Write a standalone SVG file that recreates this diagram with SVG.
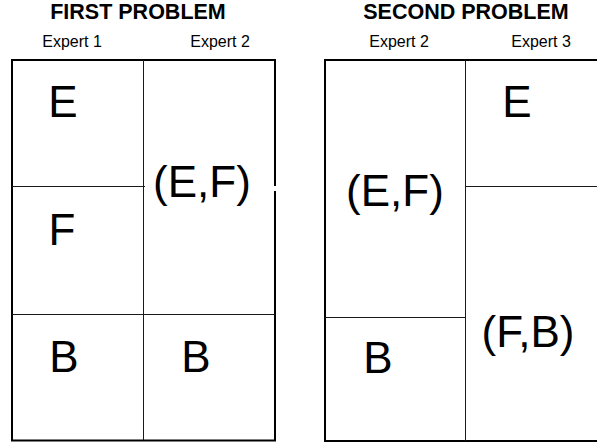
<svg xmlns="http://www.w3.org/2000/svg" width="597" height="444" viewBox="0 0 597 444">
<style>
text{font-family:"Liberation Sans",Arial,sans-serif;fill:#000;text-anchor:middle}
.title{font-size:21.5px;font-weight:bold}
.hdr{font-size:16px}
.big{font-size:44px}
.outer{fill:none;stroke:#000;stroke-width:2}
.inner{fill:none;stroke:#1a1a1a;stroke-width:1}
</style>
<rect width="597" height="444" fill="#fff"/>
<g id="first-problem">
  <text class="title" x="138" y="18.5">FIRST PROBLEM</text>
  <text class="hdr" x="72" y="47">Expert 1</text>
  <text class="hdr" x="220" y="47">Expert 2</text>
  <path class="outer" d="M275,186 V60 H12 V440.5 H275 V191"/>
  <g id="fp-lines">
    <line class="inner" x1="143.5" y1="60" x2="143.5" y2="440"/>
    <line class="inner" x1="12" y1="186.5" x2="145" y2="186.5"/>
    <line class="inner" x1="12" y1="314.5" x2="275" y2="314.5"/>
  </g>
  <g id="fp-e1-E"><text class="big" x="63" y="116.5">E</text></g>
  <g id="fp-e1-F"><text class="big" x="62" y="245">F</text></g>
  <g id="fp-e1-B"><text class="big" x="64" y="372">B</text></g>
  <g id="fp-e2-EF"><text class="big" x="202" y="197">(E,F)</text></g>
  <g id="fp-e2-B"><text class="big" x="196" y="372">B</text></g>
</g>
<g id="second-problem">
  <text class="title" x="466" y="18.5">SECOND PROBLEM</text>
  <text class="hdr" x="399" y="47">Expert 2</text>
  <text class="hdr" x="541" y="47">Expert 3</text>
  <path class="outer" d="M598,60 H325 V441 H598"/>
  <g id="sp-lines">
    <line class="inner" x1="465.5" y1="60" x2="465.5" y2="441"/>
    <line class="inner" x1="466" y1="186.5" x2="597" y2="186.5"/>
    <line class="inner" x1="325" y1="317.5" x2="466" y2="317.5"/>
  </g>
  <g id="sp-e2-EF"><text class="big" x="395" y="206">(E,F)</text></g>
  <g id="sp-e2-B"><text class="big" x="378" y="373">B</text></g>
  <g id="sp-e3-E"><text class="big" x="517" y="116.5">E</text></g>
  <g id="sp-e3-FB"><text class="big" x="528" y="347">(F,B)</text></g>
</g>
</svg>
